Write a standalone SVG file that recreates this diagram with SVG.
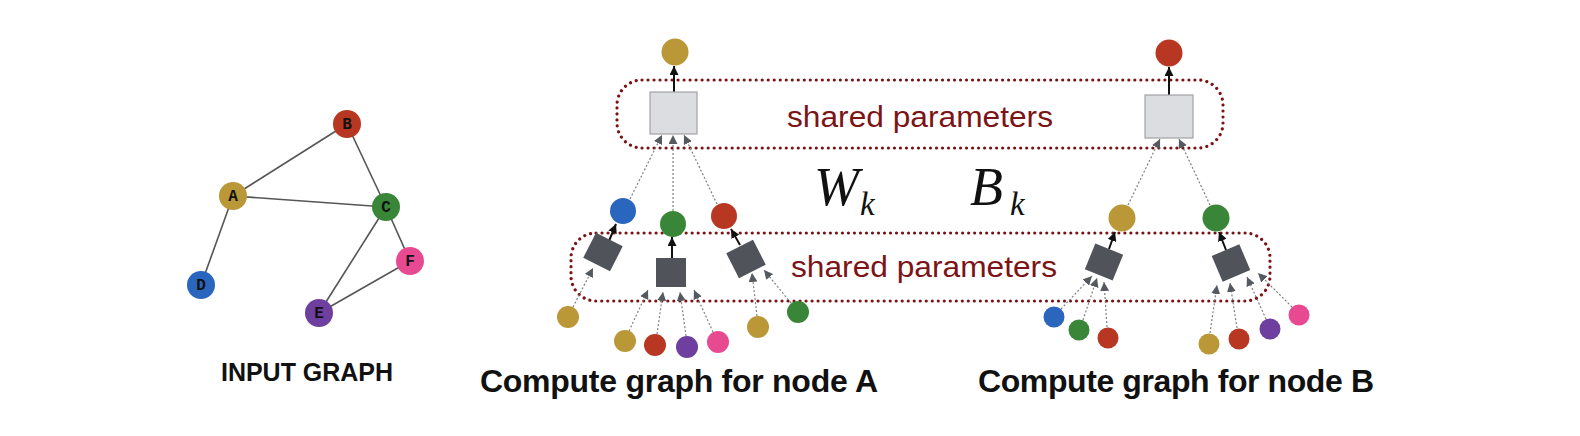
<svg xmlns="http://www.w3.org/2000/svg" width="1580" height="436" viewBox="0 0 1580 436">
<defs>
<style>
.e{stroke:#555;stroke-width:1.6;fill:none}
.d{stroke:#808080;stroke-width:1.2;stroke-dasharray:2 2;fill:none;marker-end:url(#ag)}
.s{stroke:#111;stroke-width:2;fill:none;marker-end:url(#ab)}
.box{fill:none;stroke:#7b1315;stroke-width:3.2;stroke-dasharray:0.01 6;stroke-linecap:round}
.sp{font-family:"Liberation Sans",Arial,sans-serif;font-size:29px;fill:#7b1416}
.lbl{font-family:"Liberation Sans",Arial,sans-serif;font-weight:bold;fill:#111}
.nl{font-family:"Liberation Mono","Courier New",monospace;font-weight:bold;font-size:16px;fill:#111;text-anchor:middle}
.math{font-family:"Liberation Serif","Times New Roman",serif;font-style:italic;fill:#111}
.dk{fill:#50535a}
.lt{fill:#dcdde0;stroke:#a2a2a6;stroke-width:1.2}
.gold{fill:#ba9838}.red{fill:#b73722}.green{fill:#398639}.blue{fill:#2b66be}.purple{fill:#6e3f9e}.pink{fill:#e84a92}
</style>
<marker id="ag" markerUnits="userSpaceOnUse" markerWidth="9" markerHeight="9" refX="9" refY="4.5" orient="auto"><path d="M0,0 L9,4.5 L0,9 z" fill="#555a60"/></marker>
<marker id="ab" markerUnits="userSpaceOnUse" markerWidth="9" markerHeight="9" refX="9" refY="4.5" orient="auto"><path d="M0,0 L9,4.5 L0,9 z" fill="#111"/></marker>
</defs>
<rect width="1580" height="436" fill="#fff"/>

<!-- Input graph edges -->
<g id="input-edges">
<line class="e" x1="233" y1="196" x2="347" y2="124"/>
<line class="e" x1="347" y1="124" x2="386" y2="207"/>
<line class="e" x1="233" y1="196" x2="386" y2="207"/>
<line class="e" x1="233" y1="196" x2="201" y2="285"/>
<line class="e" x1="386" y1="207" x2="410" y2="261"/>
<line class="e" x1="386" y1="207" x2="319" y2="313"/>
<line class="e" x1="410" y1="261" x2="319" y2="313"/>
</g>
<g id="in-B"><circle class="red" cx="347" cy="124" r="14"/><text class="nl" x="347" y="129">B</text></g>
<g id="in-A"><circle class="gold" cx="233" cy="196" r="14"/><text class="nl" x="233" y="201">A</text></g>
<g id="in-C"><circle class="green" cx="386" cy="207" r="14"/><text class="nl" x="386" y="212">C</text></g>
<g id="in-F"><circle class="pink" cx="410" cy="261" r="14"/><text class="nl" x="410" y="266">F</text></g>
<g id="in-D"><circle class="blue" cx="201" cy="285" r="14"/><text class="nl" x="201" y="290">D</text></g>
<g id="in-E"><circle class="purple" cx="319" cy="313" r="14"/><text class="nl" x="319" y="318">E</text></g>
<text class="lbl" x="221" y="381" font-size="25" textLength="172">INPUT GRAPH</text>

<!-- shared parameter boxes -->
<g id="shared-top">
<rect class="box" x="617" y="80" width="606" height="68" rx="25"/>
<text class="sp" x="787" y="127" textLength="266" lengthAdjust="spacingAndGlyphs">shared parameters</text>
</g>
<g id="shared-bottom">
<rect class="box" x="571" y="233" width="699" height="68" rx="25"/>
<text class="sp" x="791" y="277" textLength="266" lengthAdjust="spacingAndGlyphs">shared parameters</text>
</g>

<g id="weights">
<text class="math" x="814" y="205" font-size="54">W</text><text class="math" x="860" y="215" font-size="33">k</text>
<text class="math" x="970" y="205" font-size="54">B</text><text class="math" x="1010" y="215" font-size="33">k</text>
</g>

<!-- connectors -->
<g id="connectors">
<line class="s" x1="674" y1="92" x2="674" y2="66"/>
<line class="d" x1="630" y1="199" x2="662" y2="135"/>
<line class="d" x1="673" y1="211" x2="673" y2="135"/>
<line class="d" x1="717" y1="204" x2="684" y2="135"/>
<line class="s" x1="609" y1="241" x2="616" y2="224"/>
<line class="s" x1="672" y1="258" x2="672" y2="237"/>
<line class="s" x1="740" y1="245" x2="731" y2="229"/>
<line class="d" x1="573" y1="307" x2="593" y2="268"/>
<line class="d" x1="629" y1="331" x2="648" y2="290"/>
<line class="d" x1="657" y1="334" x2="663" y2="292"/>
<line class="d" x1="686" y1="336" x2="680" y2="292"/>
<line class="d" x1="713" y1="332" x2="694" y2="290"/>
<line class="d" x1="757" y1="316" x2="752" y2="273"/>
<line class="d" x1="791" y1="303" x2="764" y2="270"/>

<line class="s" x1="1169" y1="95" x2="1169" y2="67"/>
<line class="d" x1="1128" y1="205" x2="1160" y2="139"/>
<line class="d" x1="1210" y1="205" x2="1179" y2="139"/>
<line class="s" x1="1109" y1="249" x2="1115" y2="232"/>
<line class="s" x1="1226" y1="250" x2="1219" y2="232"/>
<line class="d" x1="1061" y1="309" x2="1092" y2="276"/>
<line class="d" x1="1083" y1="320" x2="1097" y2="278"/>
<line class="d" x1="1107" y1="327" x2="1104" y2="282"/>
<line class="d" x1="1210" y1="333" x2="1217" y2="285"/>
<line class="d" x1="1237" y1="328" x2="1230" y2="283"/>
<line class="d" x1="1266" y1="319" x2="1247" y2="277"/>
<line class="d" x1="1292" y1="307" x2="1258" y2="273"/>
</g>

<!-- Compute graph A -->
<g id="A-root"><circle class="gold" cx="675" cy="52" r="13.5"/></g>
<g id="A-agg"><rect class="lt" x="650" y="92" width="47" height="42"/></g>
<g id="A-n1"><circle class="blue" cx="623" cy="211" r="13"/></g>
<g id="A-n2"><circle class="green" cx="673" cy="224" r="13"/></g>
<g id="A-n3"><circle class="red" cx="724" cy="216" r="13"/></g>
<g id="A-sq1"><rect class="dk" x="-15" y="-14" width="30" height="28" transform="translate(603,252) rotate(27)"/></g>
<g id="A-sq2"><rect class="dk" x="656" y="258" width="30" height="29"/></g>
<g id="A-sq3"><rect class="dk" x="-15" y="-14" width="30" height="28" transform="translate(746,259) rotate(-27)"/></g>
<g id="A-l1"><circle class="gold" cx="568" cy="317" r="11"/></g>
<g id="A-l2"><circle class="gold" cx="625" cy="341" r="11"/></g>
<g id="A-l3"><circle class="red" cx="655" cy="345" r="11"/></g>
<g id="A-l4"><circle class="purple" cx="687" cy="347" r="11"/></g>
<g id="A-l5"><circle class="pink" cx="718" cy="342" r="11"/></g>
<g id="A-l6"><circle class="gold" cx="758" cy="327" r="11"/></g>
<g id="A-l7"><circle class="green" cx="798" cy="312" r="11"/></g>
<text class="lbl" x="480" y="392" font-size="32" textLength="398">Compute graph for node A</text>

<!-- Compute graph B -->
<g id="B-root"><circle class="red" cx="1169" cy="53" r="13.5"/></g>
<g id="B-agg"><rect class="lt" x="1145" y="95" width="48" height="43"/></g>
<g id="B-n1"><circle class="gold" cx="1122" cy="218" r="13.5"/></g>
<g id="B-n2"><circle class="green" cx="1216" cy="218" r="13.5"/></g>
<g id="B-sq1"><rect class="dk" x="-15" y="-14" width="30" height="28" transform="translate(1104,262) rotate(22)"/></g>
<g id="B-sq2"><rect class="dk" x="-15" y="-14" width="30" height="28" transform="translate(1231,263) rotate(-23)"/></g>
<g id="B-l1"><circle class="blue" cx="1054" cy="317" r="10.5"/></g>
<g id="B-l2"><circle class="green" cx="1079" cy="330" r="10.5"/></g>
<g id="B-l3"><circle class="red" cx="1108" cy="338" r="10.5"/></g>
<g id="B-l4"><circle class="gold" cx="1209" cy="344" r="10.5"/></g>
<g id="B-l5"><circle class="red" cx="1239" cy="339" r="10.5"/></g>
<g id="B-l6"><circle class="purple" cx="1270" cy="329" r="10.5"/></g>
<g id="B-l7"><circle class="pink" cx="1299" cy="315" r="10.5"/></g>
<text class="lbl" x="978" y="392" font-size="32" textLength="396">Compute graph for node B</text>
</svg>
